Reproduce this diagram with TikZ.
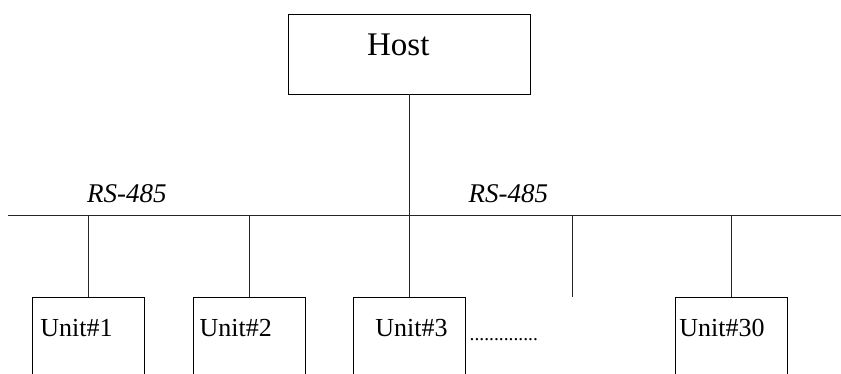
\documentclass[tikz,border=0pt]{standalone}
\usepackage{fontspec}
\setmainfont{Liberation Serif}
\usetikzlibrary{positioning}

\begin{document}
\begin{tikzpicture}[
    x=1pt, y=-1pt,
    line width=0.8pt,
    node distance=48.5pt,
    hostbox/.style={rectangle, draw, minimum width=241.5pt, minimum height=80pt, inner sep=0pt},
    unitbox/.style={rectangle, draw, minimum width=112pt, minimum height=110pt, inner sep=0pt},
    unitlbl/.style={anchor=base west, inner sep=0pt, font=\fontsize{26}{28}\selectfont},
    buslbl/.style={anchor=base west, inner sep=0pt, font=\fontsize{27}{30}\selectfont\itshape},
    wire/.style={draw=black!85}
]
\useasboundingbox (0,0) rectangle (841,374);
\clip (0,0) rectangle (841,374);

% host and bus
\node[hostbox] (host) at (409.5,54) {};
\node[anchor=base west, inner sep=0pt, font=\fontsize{33}{36}\selectfont] (hostlbl) at (366.7,56) {Host};
\coordinate (busL) at (8,215.5);
\coordinate (busR) at (841,215.5);
\draw[wire] (busL) -- (busR);

% units
\node[unitbox, anchor=north] (unit1) at (88.3,296.7) {};
\node[unitbox, right=of unit1] (unit2) {};
\node[unitbox, anchor=north] (unit3) at (409.5,296.7) {};
\node[unitbox, anchor=north] (unit30) at (731.5,296.7) {};
\coordinate (tap) at (572.7,296.7);

\node[unitlbl] (lbl1) at (40,336.2) {Unit\#1};
\node[unitlbl] (lbl2) at (199.3,336.2) {Unit\#2};
\node[unitlbl] (lbl3) at (375,336.2) {Unit\#3};
\node[unitlbl] (lbl30) at (679,336.2) {Unit\#30};
\node[anchor=base west, inner sep=0pt, font=\fontsize{19.5}{22}\selectfont] (dots) at (469.3,340.7) {..............};

% drops
\draw[wire] (host.south) -- (unit3.north);
\draw[wire] (unit1.north) -- (unit1.north |- busL);
\draw[wire] (unit2.north) -- (unit2.north |- busL);
\draw[wire] (tap) -- (tap |- busL);
\draw[wire] (unit30.north) -- (unit30.north |- busL);

\node[buslbl] (rs1) at (86.7,203) {RS-485};
\node[buslbl] (rs2) at (468.3,203) {RS-485};

\end{tikzpicture}
\end{document}
